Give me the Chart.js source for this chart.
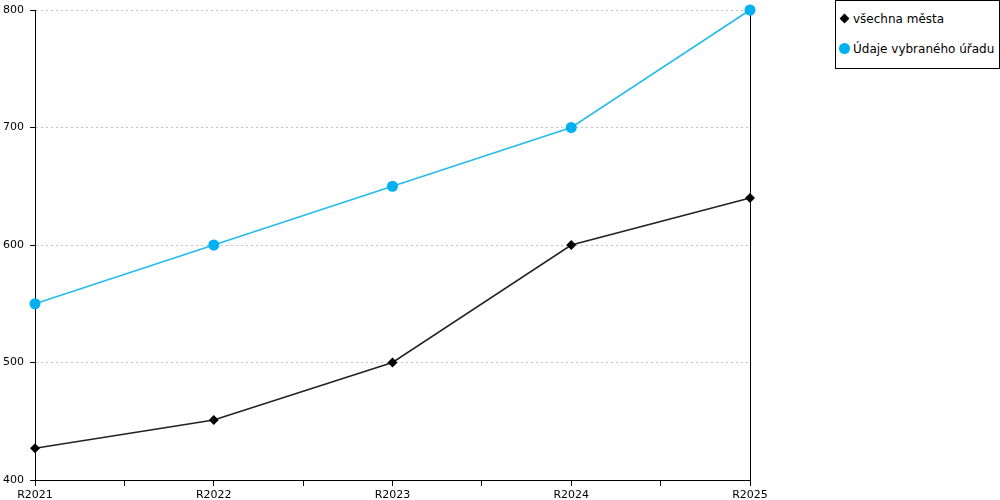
<!DOCTYPE html>
<html>
<head>
<meta charset="utf-8">
<script src="https://cdn.jsdelivr.net/npm/chart.js@4"></script>
<style>
  html, body { margin: 0; padding: 0; background: #fff; }
  #wrap { position: relative; width: 1000px; height: 500px; }
  canvas { display: block; }
  #legend { position: absolute; left: 835px; top: 0px; width: 163px; height: 67px; border: 1px solid #000; background: #fff; font-family: "DejaVu Sans", Verdana, sans-serif; font-size: 12px; color: #000; }
  .item { position: absolute; left: 0; height: 16px; line-height: 16px; white-space: nowrap; }
  .sym { position: absolute; }
  .lbl { position: absolute; left: 17px; top: 0; }
</style>
</head>
<body>
<div id="wrap">
  <canvas id="c" width="1000" height="500"></canvas>
  <div id="legend"></div>
</div>
<script>
const categories = ['R2021', 'R2022', 'R2023', 'R2024', 'R2025'];
const seriesNames = ['všechna města', 'Údaje vybraného úřadu'];
const allCities = [427, 451, 500, 600, 640];
const selectedOffice = [550, 600, 650, 700, 800];
const yMin = 400, yMax = 800, yStep = 100;

const toPts = arr => arr.map((v, i) => ({ x: i, y: v }));
const FONT = "'DejaVu Sans', Verdana, sans-serif";

const chart = new Chart(document.getElementById('c'), {
  type: 'line',
  data: {
    datasets: [
      {
        label: seriesNames[0],
        data: toPts(allCities),
        borderColor: '#222222',
        backgroundColor: '#000000',
        borderWidth: 1.5,
        pointStyle: 'rectRot',
        pointRadius: 5,
        pointHoverRadius: 5,
        pointBorderWidth: 0,
        tension: 0,
        clip: false
      },
      {
        label: seriesNames[1],
        data: toPts(selectedOffice),
        borderColor: '#22bbee',
        backgroundColor: '#00b0f0',
        borderWidth: 1.5,
        pointStyle: 'circle',
        pointRadius: 5.5,
        pointHoverRadius: 5.5,
        pointBorderWidth: 0,
        tension: 0,
        clip: false
      }
    ]
  },
  options: {
    responsive: false,
    animation: false,
    layout: { padding: { top: 10, right: 250, left: 0, bottom: 0 } },
    plugins: { legend: { display: false }, tooltip: { enabled: false } },
    scales: {
      x: {
        type: 'linear',
        min: 0,
        max: categories.length - 1,
        afterFit: s => { s.height = 20; s.paddingLeft = 0; s.paddingRight = 0; },
        ticks: {
          stepSize: 0.5,
          autoSkip: false,
          maxRotation: 0,
          padding: 3,
          color: '#000',
          font: { family: FONT, size: 11 },
          callback: v => Number.isInteger(v) ? categories[v] : ''
        },
        grid: {
          drawOnChartArea: true,
          color: ctx => (ctx.tick && ctx.tick.value === categories.length - 1) ? '#000' : 'rgba(0,0,0,0)',
          tickColor: '#000',
          tickLength: 6,
          lineWidth: 1
        },
        border: { color: '#000', width: 1 }
      },
      y: {
        min: yMin,
        max: yMax,
        afterFit: s => { s.width = 35; s.paddingTop = 0; s.paddingBottom = 0; },
        ticks: {
          stepSize: yStep,
          padding: 6,
          color: '#000',
          font: { family: FONT, size: 11 }
        },
        grid: {
          color: '#c0c0c0',
          tickColor: '#000',
          tickLength: 5,
          lineWidth: 1
        },
        border: { color: '#000', width: 1, dash: [2, 3] }
      }
    }
  }
});

// HTML legend built from the chart datasets
const legend = document.getElementById('legend');
chart.data.datasets.forEach((ds, i) => {
  const item = document.createElement('div');
  item.className = 'item';
  item.style.top = (i === 0 ? 10 : 40) + 'px';
  const sym = document.createElement('div');
  sym.className = 'sym';
  if (ds.pointStyle === 'rectRot') {
    sym.style.cssText = 'left:5px;top:4px;width:7px;height:7px;background:' + ds.backgroundColor + ';transform:rotate(45deg);';
  } else {
    sym.style.cssText = 'left:3px;top:2px;width:11px;height:11px;border-radius:50%;background:' + ds.backgroundColor + ';';
  }
  const lbl = document.createElement('span');
  lbl.className = 'lbl';
  lbl.textContent = ds.label;
  item.appendChild(sym);
  item.appendChild(lbl);
  legend.appendChild(item);
});
</script>
</body>
</html>
